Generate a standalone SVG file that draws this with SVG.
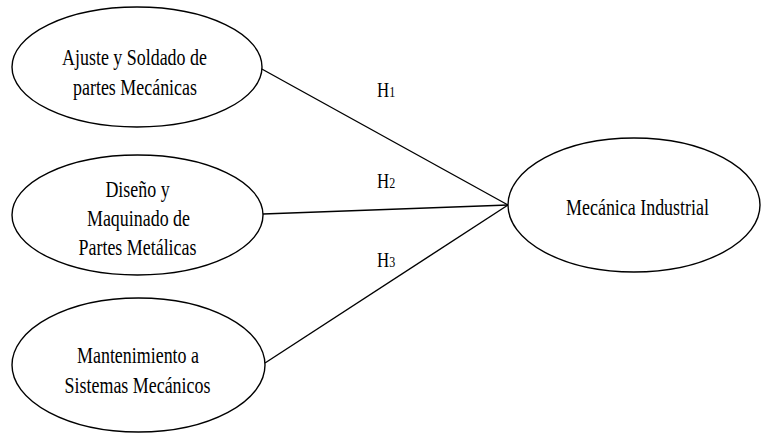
<svg xmlns="http://www.w3.org/2000/svg" width="761" height="433" viewBox="0 0 761 433">
<style>
.n{fill:#fff;stroke:#000;stroke-width:1.4}
.t{font-family:"Liberation Serif","Times New Roman",serif;font-size:23px;fill:#000;text-anchor:middle}
.h{font-family:"Liberation Serif","Times New Roman",serif;font-size:21px;fill:#000}
.s{font-size:15px}
.c{stroke:#000;stroke-width:1.4;fill:none}
</style>
<rect width="761" height="433" fill="#fff"/>
<g id="connectors">
<line class="c" x1="260" y1="68" x2="508" y2="205"/>
<line class="c" x1="263" y1="214" x2="508" y2="205"/>
<line class="c" x1="265" y1="363" x2="508" y2="205"/>
</g>
<g id="labels">
<text class="h" transform="translate(377,97) scale(0.8,1)">H<tspan class="s">1</tspan></text>
<text class="h" transform="translate(377,188) scale(0.8,1)">H<tspan class="s">2</tspan></text>
<text class="h" transform="translate(377,267) scale(0.8,1)">H<tspan class="s">3</tspan></text>
</g>
<g id="n1">
<ellipse class="n" cx="137" cy="67" rx="125" ry="60"/>
<text class="t" transform="translate(134.5,65) scale(0.78,1)">Ajuste y Soldado de</text>
<text class="t" transform="translate(135,95) scale(0.78,1)">partes Mecánicas</text>
</g>
<g id="n2">
<ellipse class="n" cx="137.5" cy="215" rx="125.5" ry="60"/>
<text class="t" transform="translate(137.5,197) scale(0.78,1)">Diseño y</text>
<text class="t" transform="translate(138.5,226) scale(0.78,1)">Maquinado de</text>
<text class="t" transform="translate(137.5,255) scale(0.78,1)">Partes Metálicas</text>
</g>
<g id="n3">
<ellipse class="n" cx="138.5" cy="365" rx="126.5" ry="67"/>
<text class="t" transform="translate(138,363) scale(0.78,1)">Mantenimiento a</text>
<text class="t" transform="translate(137.5,393) scale(0.78,1)">Sistemas Mecánicos</text>
</g>
<g id="n4">
<ellipse class="n" cx="634" cy="205" rx="126" ry="67"/>
<text class="t" transform="translate(637.5,215) scale(0.78,1)">Mecánica Industrial</text>
</g>
</svg>
